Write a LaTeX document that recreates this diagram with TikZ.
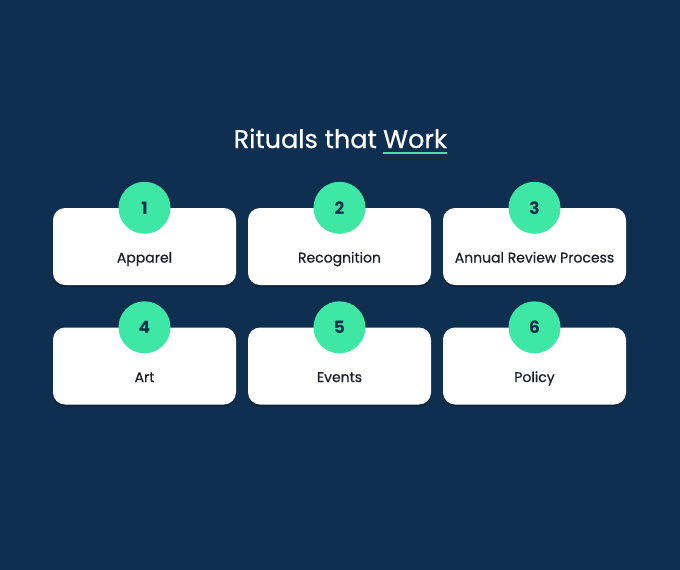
\documentclass[tikz,border=0pt]{standalone}
\usepackage{fontspec}
\setmainfont{Poppins}
\newfontfamily\mediumfont[FakeBold=0.6]{Poppins}
\usetikzlibrary{shadows}

\definecolor{navy}{HTML}{0F2F50}
\definecolor{mint}{HTML}{3EE8A4}
\definecolor{ink}{HTML}{1C1F2A}

\begin{document}
\begin{tikzpicture}[x=1pt,y=1pt,
                      card node/.style={rectangle,rounded corners=12pt,fill=white,draw=none,
                      minimum width=183pt,minimum height=77pt,text=ink,
                      font=\mediumfont\fontsize{14}{18}\selectfont,text depth=0pt,
                      drop shadow={shadow xshift=0pt,shadow yshift=-2pt,opacity=0.25,fill=black}},
                      num node/.style={circle,fill=mint,draw=none,inner sep=0pt,minimum size=52pt,
                      text=navy,font=\fontsize{17}{18}\selectfont\bfseries},
                      title text/.style={text=white,inner sep=0pt,font=\mediumfont\fontsize{25.5}{30}\selectfont}
                     ]
   \useasboundingbox[fill=navy] (0,0) rectangle (680,-570);

   % title, with the last word underlined
   \node[title text,anchor=base east] (title) at (377,-148) {Rituals that};
   \node[title text,anchor=base west] (work) at (383,-148) {Work};
   \draw[mint,line width=2.5pt] ([yshift=-5pt]work.base west) -- ([yshift=-5pt]work.base east);

   % first row
   \node[card node] (apparel) at (144.5,-246.5) {\raisebox{-16pt}{Apparel}};
   \node[card node] (recog)   at (339.5,-246.5) {\raisebox{-16pt}{Recognition}};
   \node[card node] (review)  at (534.5,-246.5) {\raisebox{-16pt}{Annual Review Process}};
   % second row
   \node[card node] (art)     at (144.5,-366) {\raisebox{-16pt}{Art}};
   \node[card node] (events)  at (339.5,-366) {\raisebox{-16pt}{Events}};
   \node[card node] (policy)  at (534.5,-366) {\raisebox{-16pt}{Policy}};

   \node[num node] (n1) at (apparel.north) {1};
   \node[num node] (n2) at (recog.north)   {2};
   \node[num node] (n3) at (review.north)  {3};
   \node[num node] (n4) at (art.north)     {4};
   \node[num node] (n5) at (events.north)  {5};
   \node[num node] (n6) at (policy.north)  {6};
\end{tikzpicture}
\end{document}
